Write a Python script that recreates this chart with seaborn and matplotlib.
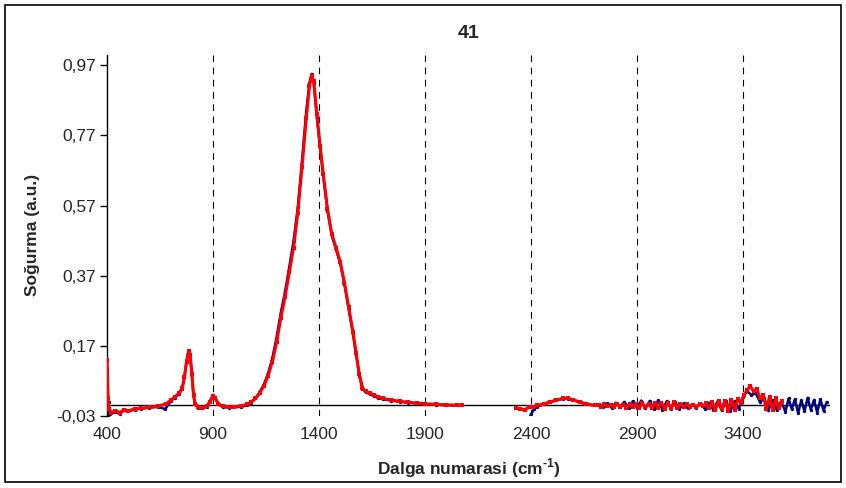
import numpy as np
import pandas as pd
import matplotlib
matplotlib.use("Agg")
import matplotlib.pyplot as plt
from matplotlib.patches import Rectangle
from matplotlib.ticker import FuncFormatter
import seaborn as sns

# Kirmizi seri - birinci bolum (400-2075)
red_wn_1 = [400, 402, 405, 410, 420, 440, 460, 480, 500, 530, 560, 600, 640, 680, 700,
            720, 740, 755, 765, 775, 785, 792, 800, 808, 815, 830, 850, 870, 885, 900,
            910, 925, 945, 975, 1000, 1030, 1060, 1080, 1100, 1120, 1140, 1160, 1180, 1200,
            1220, 1240, 1260, 1280, 1300, 1320, 1340, 1355, 1365, 1375, 1390, 1405, 1420,
            1440, 1460, 1480, 1500, 1520, 1540, 1560, 1575, 1590, 1605, 1620, 1640, 1660,
            1680, 1700, 1740, 1780, 1820, 1860, 1900, 1950, 2000, 2050, 2075]
red_abs_1 = [0.13, 0.10, 0.02, -0.01, -0.02, -0.015, -0.02, -0.012, -0.015, -0.01, -0.008,
             -0.005, -0.002, 0.005, 0.015, 0.025, 0.035, 0.05, 0.08, 0.125, 0.155, 0.145,
             0.09, 0.03, 0.005, -0.003, -0.006, -0.002, 0.01, 0.027, 0.02, 0.005, -0.002,
             -0.004, -0.003, -0.002, 0.003, 0.01, 0.02, 0.035, 0.055, 0.085, 0.125, 0.18,
             0.25, 0.31, 0.38, 0.45, 0.55, 0.68, 0.82, 0.91, 0.94, 0.925, 0.83, 0.74, 0.66,
             0.56, 0.49, 0.45, 0.41, 0.35, 0.28, 0.21, 0.15, 0.09, 0.05, 0.04, 0.035, 0.03,
             0.025, 0.02, 0.016, 0.012, 0.009, 0.007, 0.005, 0.003, 0.002, 0.001, 0.001]

# Kirmizi seri - ikinci bolum (2330-3585)
red_wn_2 = [2330, 2350, 2370, 2390, 2410, 2430, 2460, 2490, 2520, 2550, 2575, 2600, 2630,
            2660, 2700, 2715, 2730, 2745, 2760, 2775, 2790, 2805, 2820, 2835, 2850, 2865,
            2880, 2895, 2910, 2925, 2940, 2955, 2970, 2985, 3000, 3015, 3030, 3045, 3060,
            3075, 3090, 3105, 3120, 3135, 3150, 3165, 3180, 3195, 3210, 3225, 3240, 3255,
            3270, 3285, 3300, 3315, 3330, 3345, 3360, 3375, 3390, 3405, 3420, 3435, 3450,
            3465, 3480, 3495, 3510, 3525, 3540, 3555, 3570, 3585]
red_abs_2 = [-0.008, -0.01, -0.012, -0.005, -0.004, 0.0, 0.005, 0.01, 0.016, 0.02, 0.02,
             0.016, 0.01, 0.005, 0.0, 0.002, -0.004, 0.003, -0.002, 0.001, -0.005, 0.004,
             -0.003, 0.002, -0.006, 0.005, -0.004, 0.003, -0.007, 0.006, -0.005, 0.004,
             -0.008, 0.007, -0.006, 0.008, -0.009, 0.006, -0.007, 0.009, -0.008, 0.004,
             -0.005, 0.003, -0.004, 0.002, -0.003, 0.004, -0.002, 0.006, -0.008, 0.010,
             -0.012, 0.012, -0.010, 0.014, -0.015, 0.016, -0.012, 0.018, 0.008, 0.030,
             0.045, 0.055, 0.040, 0.048, 0.02, 0.03, -0.01, 0.025, -0.012, 0.02, -0.008, 0.012]

# Mavi seri - birinci bolum
blue_wn_1 = [400, 403, 407, 412, 420, 440, 460, 480, 500, 530, 560, 600, 640, 675, 700,
             720, 740, 755, 765, 775, 783, 792, 800, 808, 815, 830, 850, 870, 885, 900,
             910, 925, 945, 975, 1000, 1030, 1060, 1080, 1100, 1120, 1140, 1160, 1180, 1200,
             1220, 1240, 1260, 1280, 1300, 1320, 1340, 1355, 1365, 1375, 1390, 1405, 1420,
             1440, 1460, 1480, 1500, 1520, 1540, 1560, 1575, 1590, 1605, 1620, 1640, 1660,
             1680, 1700, 1740, 1780, 1820, 1860, 1900, 1950, 2000, 2050, 2075]
blue_abs_1 = [0.02, -0.03, 0.01, -0.025, -0.022, -0.018, -0.024, -0.014, -0.016, -0.012,
              -0.009, -0.006, -0.004, -0.01, 0.012, 0.022, 0.033, 0.048, 0.08, 0.125, 0.15,
              0.145, 0.09, 0.03, 0.003, -0.006, -0.008, -0.004, 0.012, 0.03, 0.022, 0.004,
              -0.004, -0.006, -0.005, -0.004, 0.0, 0.008, 0.02, 0.038, 0.06, 0.092, 0.135,
              0.195, 0.265, 0.325, 0.395, 0.47, 0.565, 0.70, 0.84, 0.92, 0.945, 0.92, 0.82,
              0.735, 0.655, 0.555, 0.485, 0.445, 0.405, 0.345, 0.275, 0.205, 0.145, 0.085,
              0.048, 0.038, 0.032, 0.027, 0.022, 0.018, 0.014, 0.011, 0.008, 0.006, 0.004,
              0.002, 0.001, 0.0, 0.0]

# Mavi seri - ikinci bolum (2390-3800)
blue_wn_2 = [2390, 2400, 2415, 2430, 2460, 2490, 2520, 2550, 2575, 2600, 2630, 2660, 2700,
             2720, 2740, 2760, 2780, 2800, 2820, 2840, 2860, 2880, 2900, 2920, 2940, 2960,
             2980, 3000, 3020, 3040, 3060, 3080, 3100, 3120, 3140, 3160, 3180, 3200, 3220,
             3240, 3260, 3280, 3300, 3320, 3340, 3360, 3380, 3400, 3420, 3440, 3460, 3480,
             3500, 3520, 3540, 3560, 3580, 3600, 3615, 3630, 3645, 3660, 3675, 3690, 3705,
             3720, 3735, 3750, 3765, 3780, 3795]
blue_abs_2 = [-0.04, -0.025, -0.01, -0.003, 0.003, 0.009, 0.015, 0.019, 0.019, 0.015,
              0.009, 0.004, 0.0, 0.004, -0.005, 0.006, -0.006, 0.008, -0.004, 0.01, -0.007,
              0.012, -0.006, 0.014, -0.008, 0.013, -0.01, 0.015, -0.012, 0.012, -0.009, 0.01,
              -0.01, 0.006, -0.008, 0.004, -0.006, 0.005, -0.009, 0.008, -0.012, 0.012,
              -0.014, 0.014, -0.016, 0.012, -0.01, 0.025, 0.04, 0.03, 0.035, 0.01, 0.02,
              -0.012, 0.015, -0.014, 0.012, -0.018, 0.02, -0.01, 0.018, -0.022, 0.015,
              -0.016, 0.022, -0.012, 0.016, -0.02, 0.018, -0.015, 0.01]

x_ticks = [400, 900, 1400, 1900, 2400, 2900, 3400]
y_ticks = [-0.03, 0.17, 0.37, 0.57, 0.77, 0.97]


def make_df(parts):
    rows = []
    for seg, (wn, ab) in enumerate(parts):
        rows.append(pd.DataFrame({"wn": wn, "abs": ab, "seg": seg}))
    return pd.concat(rows, ignore_index=True)


blue_df = make_df([(blue_wn_1, blue_abs_1), (blue_wn_2, blue_abs_2)])
red_df = make_df([(red_wn_1, red_abs_1), (red_wn_2, red_abs_2)])

sns.set_style("white")
plt.rcParams["font.family"] = ["Liberation Sans", "DejaVu Sans"]
plt.rcParams["axes.unicode_minus"] = False
plt.rcParams["mathtext.fontset"] = "custom"
plt.rcParams["mathtext.rm"] = "Liberation Sans:bold"

fig = plt.figure(figsize=(8.46, 4.88), dpi=100)
ax = fig.add_axes([0.1265, 0.1475, 0.8545, 0.7405])

# Cerceve
fig.patches.append(Rectangle((0.006, 0.012), 0.988, 0.978, transform=fig.transFigure,
                             fill=False, edgecolor="black", linewidth=1.2))

for v in x_ticks[1:]:
    ax.axvline(v, color="black", linestyle=(0, (6, 5)), linewidth=0.8, zorder=1)
ax.axhline(0, color="black", linewidth=1.0, zorder=1)

sns.lineplot(data=blue_df, x="wn", y="abs", units="seg", estimator=None, sort=False,
             color="#000080", linewidth=1.8, marker="o", markersize=2.4,
             markeredgewidth=0, ax=ax, zorder=2)
sns.lineplot(data=red_df, x="wn", y="abs", units="seg", estimator=None, sort=False,
             color="#FF0000", linewidth=2.2, marker="s", markersize=2.2,
             markeredgewidth=0, ax=ax, zorder=3)

ax.set_xlim(400, 3810)
ax.set_ylim(-0.03, 1.0)
ax.set_xticks(x_ticks)
ax.set_yticks(y_ticks)
ax.yaxis.set_major_formatter(FuncFormatter(lambda v, p: f"{v:.2f}".replace(".", ",")))
ax.tick_params(axis="y", direction="out", length=5, width=1, color="black",
               labelsize=12.5, pad=3, left=True)
ax.tick_params(axis="x", length=0, labelsize=12.5, pad=8)

for s in ["top", "right", "bottom"]:
    ax.spines[s].set_visible(False)
ax.spines["left"].set_color("black")
ax.spines["left"].set_linewidth(1.0)

ax.set_title("41", fontsize=14, fontweight="bold", pad=12)
ax.set_xlabel("Dalga numarasi (cm$^{\\text{-1}}$)", fontsize=12.5, fontweight="bold",
              labelpad=10)
ax.set_ylabel("Soğurma (a.u.)", fontsize=12.5, fontweight="bold", labelpad=12)

fig.savefig("out.png", dpi=100)
